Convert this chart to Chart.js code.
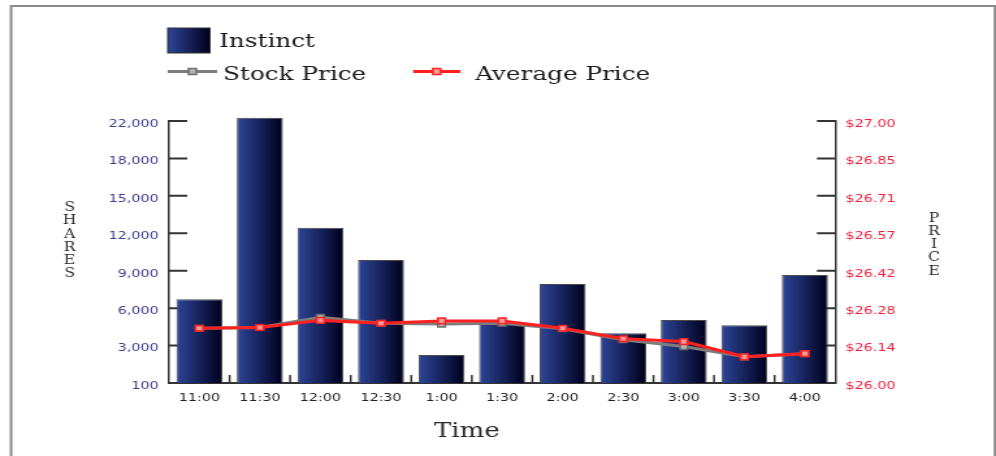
<!DOCTYPE html>
<html>
<head>
<meta charset="utf-8">
<script src="https://cdn.jsdelivr.net/npm/chart.js@4/dist/chart.umd.min.js"></script>
<style>
  html, body { margin: 0; padding: 0; background: #fff; overflow: hidden; }
  /* The chart is laid out on a narrower canvas and widened horizontally. */
  #wrap { position: absolute; left: 0; top: 0; width: 766px; height: 456px;
          transform: scaleX(1.30026); transform-origin: 0 0; }
  canvas { display: block; }
</style>
</head>
<body>
<div id="wrap"><canvas id="c" width="766" height="456"></canvas></div>
<script>
// ---- data ----
const TIMES = ['11:00', '11:30', '12:00', '12:30', '1:00', '1:30', '2:00', '2:30', '3:00', '3:30', '4:00'];
const INSTINCT_SHARES = [6710, 21270, 12450, 9860, 2240, 4790, 7940, 3980, 5050, 4630, 8660];
const STOCK_PRICE   = [26.209, 26.212, 26.251, 26.228, 26.225, 26.228, 26.207, 26.165, 26.139, 26.100, 26.112];
const AVERAGE_PRICE = [26.209, 26.212, 26.239, 26.228, 26.237, 26.237, 26.209, 26.169, 26.158, 26.100, 26.112];
const SHARE_TICK_LABELS = ['100', '3,000', '6,000', '9,000', '12,000', '15,000', '18,000', '22,000'];
const PRICE_TICK_LABELS = ['$26.00', '$26.14', '$26.28', '$26.42', '$26.57', '$26.71', '$26.85', '$27.00'];
const SHARES_TITLE = 'SHARES';
const PRICE_TITLE = 'PRICE';
const TIME_TITLE = 'Time';

const BAR_FRACTION = 0.76;
const BAR_LEFT = '#2e4699';
const BAR_RIGHT = '#00001c';

// Horizontal blue-to-black shading across each bar.
function barFill(c) {
  const chart = c.chart;
  const xs = chart.scales && chart.scales.x;
  if (!xs || !chart.chartArea || c.dataIndex === undefined) return '#16245e';
  const mid = xs.getPixelForValue(c.dataIndex);
  const half = (xs.width / TIMES.length) * BAR_FRACTION / 2;
  const g = chart.ctx.createLinearGradient(mid - half, 0, mid + half, 0);
  g.addColorStop(0, BAR_LEFT);
  g.addColorStop(1, BAR_RIGHT);
  return g;
}

const tickFont = { family: 'DejaVu Sans', size: 11 };

// Tick marks pointing into the plot, drawn underneath the bars.
const innerTicks = {
  id: 'innerTicks',
  beforeDatasetsDraw(chart) {
    const { ctx, chartArea: a, scales } = chart;
    const L = scales.shares, R = scales.price, X = scales.x;
    ctx.save();
    ctx.strokeStyle = '#333';
    ctx.lineWidth = 2;
    ctx.beginPath();
    L.ticks.forEach((t, i) => { const y = L.getPixelForTick(i); ctx.moveTo(a.left, y); ctx.lineTo(a.left + 14, y); });
    R.ticks.forEach((t, i) => { const y = R.getPixelForTick(i); ctx.moveTo(a.right - 14, y); ctx.lineTo(a.right, y); });
    ctx.stroke();
    ctx.lineWidth = 1.5;
    ctx.beginPath();
    for (let i = 1; i < X.ticks.length; i++) {
      const x = (X.getPixelForTick(i - 1) + X.getPixelForTick(i)) / 2;
      ctx.moveTo(x, a.bottom);
      ctx.lineTo(x, a.bottom - 8);
    }
    ctx.stroke();
    ctx.restore();
  }
};

// Outer frame, stacked axis titles, time title and the legend block.
const decorations = {
  id: 'decorations',
  afterDraw(chart) {
    const { ctx, chartArea: a } = chart;
    const ds = chart.data.datasets;
    ctx.save();

    // frame
    ctx.strokeStyle = '#8a8a8a';
    ctx.lineWidth = 2;
    ctx.beginPath();
    ctx.moveTo(8.5, 456); ctx.lineTo(8.5, 6); ctx.lineTo(765.2, 6); ctx.lineTo(765.2, 456);
    ctx.stroke();

    // stacked axis titles
    ctx.fillStyle = '#2a2a2a';
    ctx.font = '12px "DejaVu Serif"';
    ctx.textAlign = 'center';
    ctx.textBaseline = 'middle';
    const stack = (text, x, cy) => {
      const n = text.length;
      for (let i = 0; i < n; i++) ctx.fillText(text[i], x, cy + (i - (n - 1) / 2) * 13.2);
    };
    const midY = (a.top + a.bottom) / 2;
    stack(SHARES_TITLE, a.left - 76.5, midY - 11);
    stack(PRICE_TITLE, a.right + 76, midY - 7);

    // x axis title
    ctx.font = '20px "DejaVu Serif"';
    ctx.textBaseline = 'alphabetic';
    ctx.fillText(TIME_TITLE, a.left + 229, 437);

    // legend
    ctx.textAlign = 'left';
    ctx.font = '19px "DejaVu Serif"';
    ctx.fillStyle = '#1a1a1a';
    const bx = 129, by = 28, bw = 32.5, bh = 25;
    const g = ctx.createLinearGradient(bx, 0, bx + bw, 0);
    g.addColorStop(0, BAR_LEFT); g.addColorStop(1, BAR_RIGHT);
    ctx.fillStyle = g;
    ctx.fillRect(bx, by, bw, bh);
    ctx.strokeStyle = '#333'; ctx.lineWidth = 1;
    ctx.strokeRect(bx, by, bw, bh);
    ctx.fillStyle = '#1a1a1a';
    ctx.fillText(ds[0].label, 168.5, 47);

    const lineKey = (d, x0, x1, y) => {
      ctx.strokeStyle = d.borderColor; ctx.lineWidth = 3;
      ctx.beginPath(); ctx.moveTo(x0, y); ctx.lineTo(x1, y); ctx.stroke();
      const s = 3;
      const cx = (x0 + x1) / 2;
      ctx.fillStyle = d.pointBackgroundColor;
      ctx.fillRect(cx - s, y - s, 2 * s, 2 * s);
      ctx.strokeStyle = d.pointBorderColor; ctx.lineWidth = 1.5;
      ctx.strokeRect(cx - s, y - s, 2 * s, 2 * s);
    };
    lineKey(ds[1], 129, 167, 71.5);
    ctx.fillStyle = '#1a1a1a';
    ctx.fillText(ds[1].label, 171.5, 79.5);
    lineKey(ds[2], 317.7, 354, 71.5);
    ctx.fillStyle = '#1a1a1a';
    ctx.fillText(ds[2].label, 365.4, 79.5);

    ctx.restore();
  }
};

new Chart(document.getElementById('c'), {
  type: 'bar',
  data: {
    labels: TIMES,
    datasets: [
      {
        type: 'bar',
        label: 'Instinct',
        data: INSTINCT_SHARES,
        yAxisID: 'shares',
        backgroundColor: barFill,
        borderColor: '#4a4a4a',
        borderWidth: 1,
        categoryPercentage: 1,
        barPercentage: BAR_FRACTION,
        clip: false,
        order: 3
      },
      {
        type: 'line',
        label: 'Stock Price',
        data: STOCK_PRICE,
        yAxisID: 'price',
        borderColor: '#7d7d7d',
        borderWidth: 3,
        pointStyle: 'rect',
        pointRadius: 4,
        pointBorderWidth: 1.5,
        pointBackgroundColor: '#b4b4b4',
        pointBorderColor: '#6e6e6e',
        tension: 0,
        order: 2
      },
      {
        type: 'line',
        label: 'Average Price',
        data: AVERAGE_PRICE,
        yAxisID: 'price',
        borderColor: '#ff2020',
        borderWidth: 3,
        pointStyle: 'rect',
        pointRadius: 4,
        pointBorderWidth: 1.5,
        pointBackgroundColor: '#ff9a9a',
        pointBorderColor: '#ff2020',
        tension: 0,
        order: 1
      }
    ]
  },
  options: {
    responsive: false,
    devicePixelRatio: 1,
    animation: false,
    events: [],
    layout: { padding: { left: 60, right: 53.7, top: 121, bottom: 41 } },
    plugins: { legend: { display: false }, tooltip: { enabled: false } },
    scales: {
      x: {
        offset: true,
        grid: { display: false, drawTicks: false },
        border: { display: true, color: '#333', width: 2 },
        ticks: { color: '#222', font: tickFont, padding: 9, maxRotation: 0, autoSkip: false },
        afterFit: s => { s.height = 32; }
      },
      shares: {
        type: 'linear',
        position: 'left',
        min: 0,
        max: 21000,
        grid: { display: false, drawTicks: false },
        border: { display: true, color: '#333', width: 1.5 },
        ticks: {
          stepSize: 3000, color: '#3c3c8e', font: tickFont, padding: 8, labelOffset: 3,
          callback: (v, i) => SHARE_TICK_LABELS[i]
        },
        afterFit: s => { s.width = 70; }
      },
      price: {
        type: 'linear',
        position: 'right',
        min: 26,
        max: 27,
        grid: { display: false, drawTicks: false },
        border: { display: true, color: '#333', width: 1.5 },
        ticks: {
          count: 8, color: '#f0203a', font: tickFont, padding: 8, labelOffset: 3,
          callback: (v, i) => PRICE_TICK_LABELS[i]
        },
        afterFit: s => { s.width = 70; }
      }
    }
  },
  plugins: [innerTicks, decorations]
});
</script>
</body>
</html>
